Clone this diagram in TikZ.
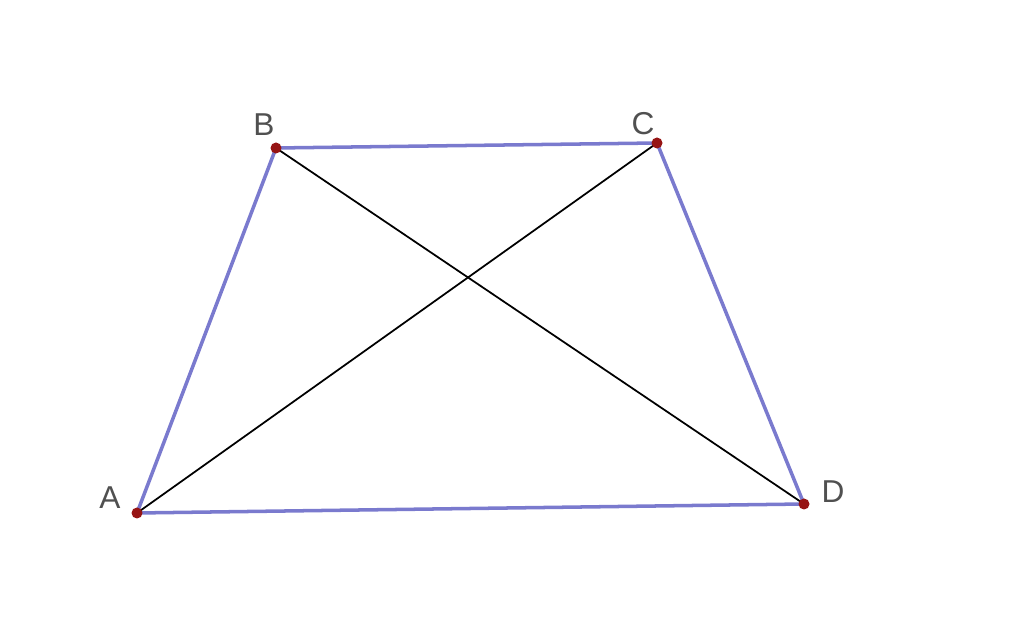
\documentclass[tikz,border=0pt]{standalone}
\usepackage{fontspec}
\setmainfont{Liberation Sans}
\definecolor{side}{RGB}{122,122,206}
\definecolor{pt}{RGB}{150,20,20}
\definecolor{lbl}{RGB}{80,80,80}
\tikzset{
    dot/.style={circle,fill=pt,inner sep=0pt,minimum size=1.1mm},
    lab/.style={text=lbl,font=\fontsize{9}{9}\selectfont},
    edge/.style={side,line width=1pt},
    diag/.style={black,line width=0.5pt}
}
\begin{document}
\begin{tikzpicture}
            \useasboundingbox (0,0) rectangle (10.24,6.35);
            \coordinate (A) at (1.37,1.22);
            \coordinate (B) at (2.76,4.87);
            \coordinate (C) at (6.57,4.92);
            \coordinate (D) at (8.04,1.31);

            \draw[edge] (A) -- (B) -- (C) -- (D) -- cycle;
            \draw[diag] (A) to (C);
            \draw[diag] (B) to (D);

            \node[dot] (pa) at (A) {};
            \node[dot] (pb) at (B) {};
            \node[dot] (pc) at (C) {};
            \node[dot] (pd) at (D) {};
            \node[lab] (la) at (1.10,1.37) {A};
            \node[lab] (lb) at (2.64,5.10) {B};
            \node[lab] (lc) at (6.43,5.11) {C};
            \node[lab] (ld) at (8.33,1.43) {D};
        \end{tikzpicture}
\end{document}
